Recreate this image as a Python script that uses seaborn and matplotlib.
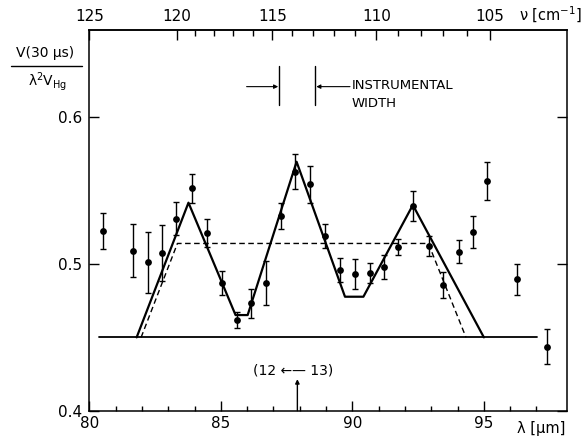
import matplotlib
matplotlib.use("Agg")
import matplotlib.pyplot as plt
import seaborn as sns
import pandas as pd
import numpy as np
from matplotlib.lines import Line2D
from matplotlib.ticker import FixedLocator

# ---- data ----
lam_pts = [80.51, 81.65, 82.22, 82.78, 83.31, 83.92, 84.48, 85.05, 85.60, 86.15,
           86.71, 87.28, 87.83, 88.40, 88.97, 89.53, 90.11, 90.67, 91.20, 91.75,
           92.29, 92.90, 93.46, 94.05, 94.60, 95.12, 96.27, 97.41]
v_pts = [0.5225, 0.509, 0.5011, 0.5073, 0.531, 0.5516, 0.5213, 0.487, 0.4618, 0.4732,
         0.4873, 0.5327, 0.5629, 0.5543, 0.5191, 0.4959, 0.4932, 0.4941, 0.498, 0.5118,
         0.5395, 0.5123, 0.4855, 0.5084, 0.5218, 0.5564, 0.4896, 0.4436]
v_err = [0.012, 0.018, 0.021, 0.019, 0.011, 0.010, 0.0095, 0.008, 0.0055, 0.010,
         0.015, 0.009, 0.012, 0.0128, 0.008, 0.0083, 0.0102, 0.0068, 0.0083, 0.0055,
         0.010, 0.007, 0.009, 0.008, 0.011, 0.013, 0.0105, 0.012]

lam_model = [81.80, 83.77, 85.56, 86.02, 87.88, 89.72, 90.42, 92.30, 95.00]
v_model = [0.45, 0.5418, 0.4652, 0.4652, 0.5697, 0.4777, 0.4777, 0.5402, 0.45]

lam_dash = [81.97, 83.35, 92.89, 94.32]
v_dash = [0.45, 0.514, 0.514, 0.45]

lam_base = [80.38, 97.03]
v_base = [0.45, 0.45]

x_major = [80, 85, 90, 95]
x_labels = ["80", "85", "90", "95"]
y_major = [0.4, 0.5, 0.6]
y_labels = ["0.4", "0.5", "0.6"]
nu_major = [125, 120, 115, 110, 105]
nu_minor = list(range(106, 120))

# ---- plotting ----
sns.set_theme(style="ticks")
plt.rcParams['font.family'] = ['DejaVu Sans']
plt.rcParams['text.color'] = 'black'
plt.rcParams['xtick.color'] = 'black'
plt.rcParams['ytick.color'] = 'black'
plt.rcParams['xtick.labelcolor'] = 'black'
plt.rcParams['ytick.labelcolor'] = 'black'

fig = plt.figure(figsize=(5.84, 4.38), dpi=100)
ax = fig.add_axes([0.1529, 0.0623, 0.818, 0.8692])

df_model = pd.DataFrame({"lam": lam_model, "v": v_model})
df_dash = pd.DataFrame({"lam": lam_dash, "v": v_dash})
df_base = pd.DataFrame({"lam": lam_base, "v": v_base})
df_pts = pd.DataFrame({"lam": lam_pts, "v": v_pts, "err": v_err})

sns.lineplot(data=df_base, x="lam", y="v", ax=ax, color="black", lw=1.3,
             sort=False, estimator=None)
sns.lineplot(data=df_model, x="lam", y="v", ax=ax, color="black", lw=1.6,
             sort=False, estimator=None)
sns.lineplot(data=df_dash, x="lam", y="v", ax=ax, color="black", lw=1.0,
             sort=False, estimator=None, linestyle=(0, (4, 2.5)))
ax.errorbar(df_pts["lam"], df_pts["v"], yerr=df_pts["err"], fmt="none",
            ecolor="black", elinewidth=1.0, capsize=2.5, capthick=1.0)
sns.scatterplot(data=df_pts, x="lam", y="v", ax=ax, color="black", s=24,
                edgecolor="black", linewidth=0, zorder=5)

ax.set_xlim(80, 98.16)
ax.set_ylim(0.4, 0.6595)
ax.set_xlabel("")
ax.set_ylabel("")

ax.xaxis.set_major_locator(FixedLocator(x_major))
ax.xaxis.set_minor_locator(FixedLocator(list(range(81, 98))))
ax.set_xticklabels(x_labels)
ax.yaxis.set_major_locator(FixedLocator(y_major))
ax.set_yticklabels(y_labels)

ax.tick_params(axis="x", which="major", direction="in", length=7.2, width=1.0,
               labelsize=11, pad=4, top=False)
ax.tick_params(axis="x", which="minor", direction="in", length=3.6, width=1.0, top=False)
ax.tick_params(axis="y", which="major", direction="in", length=7.2, width=1.0,
               labelsize=11, pad=5, right=True, labelright=False)
ax.tick_params(axis="y", which="minor", left=False, right=False)

for sp in ax.spines.values():
    sp.set_visible(True)
    sp.set_linewidth(1.1)
    sp.set_color("black")

secax = ax.secondary_xaxis("top", functions=(lambda x: 10000.0 / x,
                                             lambda x: 10000.0 / x))
secax.xaxis.set_major_locator(FixedLocator(nu_major))
secax.xaxis.set_minor_locator(FixedLocator(nu_minor))
secax.set_xticklabels([str(n) for n in nu_major])
secax.tick_params(axis="x", which="major", direction="in", length=7.5, width=1.0,
                  labelsize=11, pad=4, colors="black")
secax.tick_params(axis="x", which="minor", direction="in", length=4.2, width=1.0,
                  colors="black")
secax.spines["top"].set_linewidth(1.1)
secax.spines["top"].set_color("black")

# ---- annotations ----
ax.plot([87.23, 87.23], [0.6084, 0.6352], color="black", lw=1.0)
ax.plot([88.58, 88.58], [0.6084, 0.6352], color="black", lw=1.0)
ax.annotate("", xy=(87.18, 0.6209), xytext=(85.98, 0.6209),
            arrowprops=dict(arrowstyle="-|>", color="black", lw=0.8,
                            mutation_scale=6, shrinkA=0, shrinkB=0))
ax.annotate("", xy=(88.63, 0.6209), xytext=(89.91, 0.6209),
            arrowprops=dict(arrowstyle="-|>", color="black", lw=0.8,
                            mutation_scale=6, shrinkA=0, shrinkB=0))
ax.text(89.98, 0.6215, "INSTRUMENTAL", ha="left", va="center", fontsize=9.5,
        color="black")
ax.text(89.98, 0.6097, "WIDTH", ha="left", va="center", fontsize=9.5, color="black")

ax.annotate("", xy=(87.91, 0.4215), xytext=(87.91, 0.4),
            arrowprops=dict(arrowstyle="-|>", color="black", lw=1.0,
                            mutation_scale=6, shrinkA=0, shrinkB=0))
ax.text(87.73, 0.4275, "(12 \u2190\u2014 13)", ha="center", va="center", fontsize=10,
        color="black")

# axis labels placed in figure pixel coords
W, H = 584.0, 438.0
fig.text(45.5 / W, 1 - 53 / H, "V(30 \u00b5s)", ha="center", va="center",
         fontsize=10, color="black")
fig.add_artist(Line2D([11 / W, 82 / W], [1 - 65.7 / H, 1 - 65.7 / H],
                      color="black", lw=1.0, transform=fig.transFigure))
fig.text(48 / W, 1 - 82 / H, "\u03bb$^{2}$V$_{\\mathrm{Hg}}$", ha="center",
         va="center", fontsize=10, color="black")
fig.text(551 / W, 1 - 15 / H, "\u03bd [cm$^{-1}$]", ha="center", va="center",
         fontsize=10.5, color="black")
fig.text(541 / W, 1 - 428 / H, "\u03bb [\u00b5m]", ha="center", va="center",
         fontsize=10.5, color="black")

fig.savefig("out.png", dpi=100)
